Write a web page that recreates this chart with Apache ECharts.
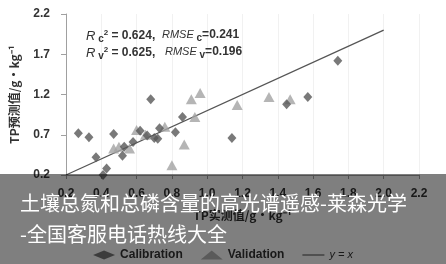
<!DOCTYPE html>
<html><head><meta charset="utf-8">
<script src="https://cdn.jsdelivr.net/npm/echarts@6/dist/echarts.min.js"></script>
<style>html,body{margin:0;padding:0;background:#fff}#c{width:446px;height:264px}</style>
</head><body><div id="c"></div>
<script>
var xTicks = [0.2, 2.2];
var yTicks = [0.2, 2.2];
var calibration = [
  [0.27,0.72],[0.33,0.67],[0.37,0.42],[0.41,0.20],[0.43,0.28],[0.47,0.71],[0.52,0.44],
  [0.53,0.55],[0.58,0.61],[0.62,0.75],[0.66,0.69],[0.68,1.14],[0.70,0.66],[0.72,0.65],
  [0.73,0.78],[0.82,0.73],[0.86,0.92],[1.14,0.66],[1.45,1.08],[1.57,1.17],[1.74,1.62]
];
var validation = [
  [0.47,0.53],[0.50,0.55],[0.56,0.53],[0.60,0.76],[0.65,0.70],[0.76,0.80],[0.80,0.32],
  [0.87,0.58],[0.91,1.14],[0.93,0.92],[0.96,1.22],[1.17,1.07],[1.35,1.17],[1.47,1.14]
];
var identity = [[0.2,0.2],[2.0,2.0]];
var caption1 = '土壤总氮和总磷含量的高光谱遥感-莱森光学';
var caption2 = '-全国客服电话热线大全';

var chart = echarts.init(document.getElementById('c'), null, {renderer:'canvas'});
var ff = 'Liberation Sans';
chart.setOption({
  animation:false,
  textStyle:{fontFamily:ff},
  grid:{left:62, right:27, top:14, bottom:89},
  xAxis:{type:'value', min:xTicks[0], max:xTicks[1], interval:0.2,
    name:'TP实测值/g·kg⁻¹', nameLocation:'middle', nameGap:34,
    nameTextStyle:{fontSize:12, fontWeight:'bold', color:'#333', fontFamily:'Noto Sans CJK SC'},
    axisLine:{show:true, lineStyle:{color:'#a0a0a0', width:1}},
    axisTick:{show:true, length:4, lineStyle:{color:'#a0a0a0'}},
    axisLabel:{margin:13, fontSize:12, fontWeight:'bold', color:'#333', formatter:function(v){return v.toFixed(1);}},
    splitLine:{show:true, lineStyle:{color:'#f1f1f1'}}},
  yAxis:{type:'value', min:yTicks[0], max:yTicks[1], interval:0.5,
    name:'TP预测值/g·kg⁻¹', nameLocation:'middle', nameGap:46, nameRotate:90,
    nameTextStyle:{fontSize:12, fontWeight:'bold', color:'#333', fontFamily:'Noto Sans CJK SC'},
    axisLine:{show:true, lineStyle:{color:'#a0a0a0', width:1}},
    axisTick:{show:true, length:5, lineStyle:{color:'#a0a0a0'}},
    axisLabel:{margin:16, fontSize:12, fontWeight:'bold', color:'#333', formatter:function(v){return v.toFixed(1);}},
    splitLine:{show:false}},
  legend:{top:244, left:'center', itemGap:18, itemWidth:22, itemHeight:9,
    textStyle:{fontSize:12, fontWeight:'bold', color:'#333', rich:{i:{fontStyle:'italic', fontSize:11, fontWeight:'normal', color:'#333'}}},
    formatter:function(n){return n==='y = x' ? '{i|y = x}' : n;},
    data:[{name:'Calibration', icon:'diamond'},{name:'Validation', icon:'triangle'},{name:'y = x', icon:'path://M0,0H100V5H0Z'}]},
  series:[
    {name:'y = x', type:'line', data:identity, symbol:'none', lineStyle:{color:'#555', width:1.3}, itemStyle:{color:'#555'}, z:1},
    {name:'Calibration', type:'scatter', data:calibration, symbol:'diamond', symbolSize:[9,10], itemStyle:{color:'#585858'}, z:3},
    {name:'Validation', type:'scatter', data:validation, symbol:'triangle', symbolSize:[11,10], itemStyle:{color:'#a3a3a3'}, z:2}
  ],
  graphic:[
    {type:'text', left:86, top:29, z:50, style:{
      text:'{i|R}{s| c}{p|2}{b| = 0.624,}', rich:{
        i:{fontStyle:'italic', fontSize:13, fill:'#333', fontFamily:ff},
        s:{fontSize:10, fontWeight:'bold', fill:'#333', padding:[6,0,0,0]},
        p:{fontSize:8, fontWeight:'bold', fill:'#333', padding:[0,0,6,0]},
        b:{fontSize:12, fontWeight:'bold', fill:'#333'}}}},
    {type:'text', left:86, top:46, z:50, style:{
      text:'{i|R}{s| v}{p|2}{b| = 0.625,}', rich:{
        i:{fontStyle:'italic', fontSize:13, fill:'#333', fontFamily:ff},
        s:{fontSize:10, fontWeight:'bold', fill:'#333', padding:[6,0,0,0]},
        p:{fontSize:8, fontWeight:'bold', fill:'#333', padding:[0,0,6,0]},
        b:{fontSize:12, fontWeight:'bold', fill:'#333'}}}},
    {type:'text', left:162, top:29, z:50, style:{
      text:'{i|RMSE}{s| c}{b|=0.241}', rich:{
        i:{fontStyle:'italic', fontSize:11, fill:'#333'},
        s:{fontSize:10, fontWeight:'bold', fill:'#333', padding:[6,0,0,0]},
        b:{fontSize:12, fontWeight:'bold', fill:'#333'}}}},
    {type:'text', left:165, top:46, z:50, style:{
      text:'{i|RMSE}{s| v}{b|=0.196}', rich:{
        i:{fontStyle:'italic', fontSize:11, fill:'#333'},
        s:{fontSize:10, fontWeight:'bold', fill:'#333', padding:[6,0,0,0]},
        b:{fontSize:12, fontWeight:'bold', fill:'#333'}}}},
    {type:'rect', left:0, top:174, z:100, shape:{width:446, height:90}, style:{fill:'rgba(0,0,0,0.5)'}},
    {type:'text', left:20, top:193, z:101, style:{text:caption1, fill:'#fff', fontSize:20, fontFamily:'Noto Sans CJK SC'}},
    {type:'text', left:20, top:224, z:101, style:{text:caption2, fill:'#fff', fontSize:20, fontFamily:'Noto Sans CJK SC'}}
  ]
});
</script></body></html>
